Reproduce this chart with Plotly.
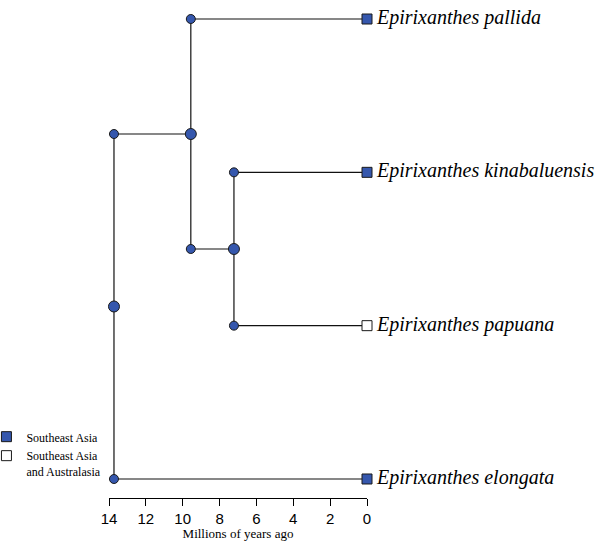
import plotly.graph_objects as go

# ---- data ----
tip_names = ["Epirixanthes pallida", "Epirixanthes kinabaluensis",
             "Epirixanthes papuana", "Epirixanthes elongata"]
tip_y = [4, 3, 2, 1]
tip_age = [0, 0, 0, 0]
tip_state = ["Southeast Asia", "Southeast Asia",
             "Southeast Asia and Australasia", "Southeast Asia"]

node_names = ["root", "A", "B"]
node_age = [13.73, 9.56, 7.22]

# child -> parent
parent = {
    "Epirixanthes pallida": "A",
    "Epirixanthes kinabaluensis": "B",
    "Epirixanthes papuana": "B",
    "Epirixanthes elongata": "root",
    "A": "root",
    "B": "A",
}

states = ["Southeast Asia", "Southeast Asia and Australasia"]
state_labels = ["Southeast Asia", "Southeast Asia<br>and Australasia"]
state_colors = ["#3557ad", "#ffffff"]

x_ticks = [14, 12, 10, 8, 6, 4, 2, 0]

# ---- derived positions ----
age = dict(zip(tip_names, tip_age))
age.update(dict(zip(node_names, node_age)))
ypos = dict(zip(tip_names, tip_y))
children = {}
for c, p in parent.items():
    children.setdefault(p, []).append(c)


def get_y(n):
    if n not in ypos:
        ys = [get_y(c) for c in children[n]]
        ypos[n] = sum(ys) / len(ys)
    return ypos[n]


for n in node_names:
    get_y(n)

lx, ly = [], []
for c, p in parent.items():
    lx += [age[p], age[c], None]
    ly += [ypos[c], ypos[c], None]
for n in node_names:
    ys = [ypos[c] for c in children[n]]
    lx += [age[n], age[n], None]
    ly += [min(ys), max(ys), None]

fig = go.Figure()
fig.add_trace(go.Scatter(x=lx, y=ly, mode="lines",
                         line=dict(color="#111111", width=1.2),
                         showlegend=False, hoverinfo="skip"))

# corner pies (branch bottoms)
cx = [age[parent[c]] for c in parent]
cy = [ypos[c] for c in parent]
fig.add_trace(go.Scatter(x=cx, y=cy, mode="markers", cliponaxis=False,
                         marker=dict(symbol="circle", size=9, color=state_colors[0],
                                     line=dict(color="#1a1a1a", width=1)),
                         showlegend=False))
# node pies
fig.add_trace(go.Scatter(x=node_age, y=[ypos[n] for n in node_names],
                         mode="markers", cliponaxis=False,
                         marker=dict(symbol="circle", size=11, color=state_colors[0],
                                     line=dict(color="#1a1a1a", width=1)),
                         showlegend=False))

# tips by state (also legend)
for s, lab, col in zip(states, state_labels, state_colors):
    xs = [a for a, st in zip(tip_age, tip_state) if st == s]
    ys = [y for y, st in zip(tip_y, tip_state) if st == s]
    fig.add_trace(go.Scatter(x=xs, y=ys, mode="markers", cliponaxis=False,
                             name=lab,
                             marker=dict(symbol="square", size=10, color=col,
                                         line=dict(color="#1a1a1a", width=1))))

# tip labels
fig.add_trace(go.Scatter(x=tip_age, y=tip_y, mode="text", cliponaxis=False,
                         text=["  " + t for t in tip_names],
                         textposition="middle right",
                         textfont=dict(family="Liberation Serif", size=20,
                                       color="black", style="italic"),
                         showlegend=False))

fig.update_layout(
    width=598, height=541,
    margin=dict(l=109, r=231, t=10, b=43, autoexpand=False),
    plot_bgcolor="white", paper_bgcolor="white",
    font=dict(family="Liberation Serif", color="black"),
    xaxis=dict(range=[14, 0], tickvals=x_ticks, showgrid=False, zeroline=False,
               showline=True, linecolor="black", linewidth=1,
               ticks="outside", ticklen=7, tickwidth=1, tickcolor="black",
               tickfont=dict(family="Liberation Sans", size=15, color="black"),
               title=dict(text="Millions of years ago", standoff=3,
                          font=dict(family="Liberation Serif", size=13))),
    yaxis=dict(range=[0.876, 4.0587], visible=False),
    legend=dict(x=-0.475, y=0.155, xanchor="left", yanchor="top",
                font=dict(family="Liberation Serif", size=12),
                itemwidth=30, valign="top", tracegroupgap=2,
                bgcolor="rgba(0,0,0,0)"),
)

fig.write_html("out.html")
